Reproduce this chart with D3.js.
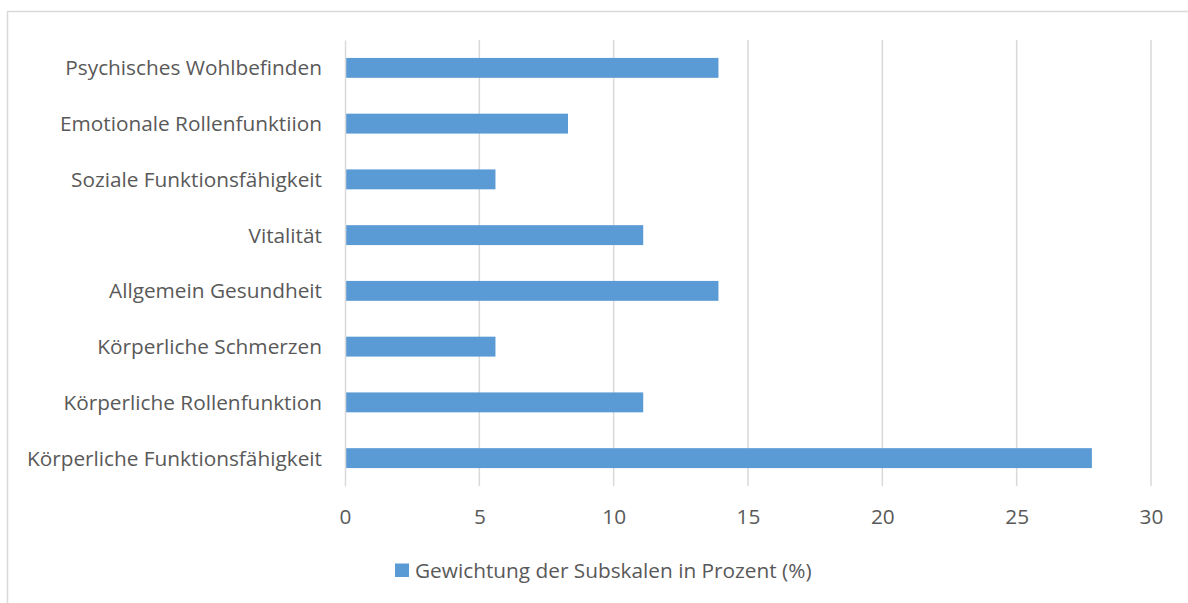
<!DOCTYPE html>
<html>
<head>
<meta charset="utf-8">
<script src="https://cdn.jsdelivr.net/npm/d3@7/dist/d3.min.js"></script>
<style>
  html, body { margin: 0; padding: 0; background: #ffffff; }
  svg { display: block; }
  text { font-family: "Open Sans", "DejaVu Sans", sans-serif; fill: #595959; }
</style>
</head>
<body>
<svg id="chart" width="1188" height="603"></svg>
<script>
// SF-36 subscale weights, listed top to bottom as drawn
const categories = [
  "Psychisches Wohlbefinden",
  "Emotionale Rollenfunktiion",
  "Soziale Funktionsfähigkeit",
  "Vitalität",
  "Allgemein Gesundheit",
  "Körperliche Schmerzen",
  "Körperliche Rollenfunktion",
  "Körperliche Funktionsfähigkeit"
];
const weights = [13.9, 8.3, 5.6, 11.1, 13.9, 5.6, 11.1, 27.8];
const xTicks = [0, 5, 10, 15, 20, 25, 30];
const seriesName = "Gewichtung der Subskalen in Prozent (%)";

const W = 1188, H = 603;
const plot = { left: 345, right: 1151, top: 40, bottom: 486 };
const barColor = "#5b9bd5";
const gridColor = "#d9d9d9";
const fontSize = 20.8;

const svg = d3.select("#chart");

// chart area frame (top and left edges visible)
svg.append("path")
  .attr("d", `M7.5,${H} V11.5 H${W}`)
  .attr("fill", "none")
  .attr("stroke", gridColor)
  .attr("stroke-width", 1.5);

const x = d3.scaleLinear().domain([0, 30]).range([plot.left, plot.right]);
const gap = 1.8; // gap width 180%
const y = d3.scaleBand()
  .domain(categories)
  .range([plot.top, plot.bottom])
  .paddingInner(gap / (1 + gap))
  .paddingOuter(gap / (1 + gap) / 2);

// vertical gridlines
svg.append("g")
  .selectAll("line")
  .data(xTicks.filter(t => t > 0))
  .join("line")
  .attr("x1", d => x(d)).attr("x2", d => x(d))
  .attr("y1", plot.top).attr("y2", plot.bottom)
  .attr("stroke", gridColor)
  .attr("stroke-width", 1.5);

// bars
svg.append("g")
  .selectAll("rect")
  .data(categories.map((c, i) => ({ c, v: weights[i] })))
  .join("rect")
  .attr("x", x(0))
  .attr("y", d => y(d.c))
  .attr("width", d => x(d.v) - x(0))
  .attr("height", y.bandwidth())
  .attr("fill", barColor);

// category axis
const yAxis = svg.append("g")
  .attr("transform", `translate(${plot.left},0)`)
  .call(d3.axisLeft(y).tickSize(0).tickSizeOuter(0).tickPadding(23));
yAxis.select(".domain").attr("stroke", gridColor).attr("stroke-width", 1.5);
yAxis.selectAll("text")
  .style("font-size", fontSize + "px")
  .attr("dy", "0.36em")
  .attr("fill", "#595959")
  .attr("font-family", null);

// value axis labels
const xAxis = svg.append("g")
  .attr("transform", `translate(0,${plot.bottom})`)
  .call(d3.axisBottom(x).tickValues(xTicks).tickSize(0).tickPadding(23));
xAxis.select(".domain").remove();
xAxis.selectAll("text")
  .style("font-size", fontSize + "px")
  .attr("fill", "#595959")
  .attr("font-family", null);

// legend
const legend = svg.append("g").attr("transform", "translate(395,563.5)");
legend.append("rect")
  .attr("width", 14).attr("height", 13.5)
  .attr("fill", barColor);
legend.append("text")
  .attr("x", 20).attr("y", 7)
  .attr("dy", "0.36em")
  .style("font-size", fontSize + "px")
  .text(seriesName);
</script>
</body>
</html>
